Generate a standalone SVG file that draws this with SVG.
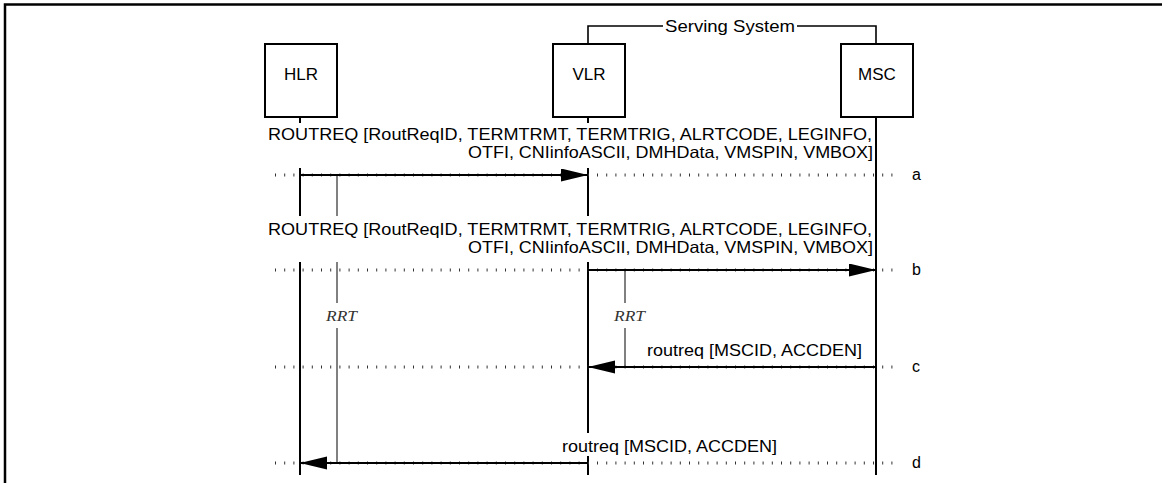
<svg xmlns="http://www.w3.org/2000/svg" width="1162" height="483" viewBox="0 0 1162 483">
<style>
.frame{fill:none;stroke:#000;stroke-width:2.5}
.box{fill:#fff;stroke:#000;stroke-width:2}
.life{stroke:#000;stroke-width:2;fill:none}
.timer{stroke:#808080;stroke-width:2;fill:none}
.dots{stroke:#333;stroke-width:3;stroke-dasharray:1 8.2;fill:none}
.msg{stroke:#000;stroke-width:1.8;fill:none}
.brk{stroke:#000;stroke-width:1.6;fill:none}
.node{font-family:"Liberation Sans",Arial,sans-serif;font-size:17px;fill:#000}
.lbl{font-family:"Liberation Sans",Arial,sans-serif;font-size:16.5px;fill:#000}
.tag{font-family:"Liberation Sans",Arial,sans-serif;font-size:16px;fill:#000}
.rrt{font-family:"Liberation Serif","Times New Roman",serif;font-style:italic;font-size:14px;fill:#333}
</style>
<defs>
<marker id="ah" markerUnits="userSpaceOnUse" markerWidth="28" markerHeight="14" refX="27" refY="6.5" orient="auto">
<path d="M0,0 L27,6.5 L0,13 Z" fill="#000"/>
</marker>
</defs>
<rect width="1162" height="483" fill="#fff"/>
<path class="frame" d="M5,483 V4.5 H1162"/>

<g id="serving-system">
<path class="brk" d="M588,44 V26 H663"/>
<path class="brk" d="M797,26 H876 V44"/>
<text class="node" x="665" y="31.5" textLength="130" lengthAdjust="spacingAndGlyphs">Serving System</text>
</g>

<g id="HLR">
<rect class="box" x="265" y="44" width="72" height="73"/>
<text class="node" x="301" y="79.5" text-anchor="middle">HLR</text>
</g>
<g id="VLR">
<rect class="box" x="553" y="44" width="72" height="73"/>
<text class="node" x="589" y="79.5" text-anchor="middle">VLR</text>
</g>
<g id="MSC">
<rect class="box" x="841" y="44" width="72" height="73"/>
<text class="node" x="877" y="79.5" text-anchor="middle">MSC</text>
</g>

<g id="lifelines">
<path class="life" d="M300,117 V123 M300,168 V216 M300,262 V475"/>
<path class="life" d="M588,117 V123 M588,168 V216 M588,262 V433 M588,456 V475"/>
<path class="life" d="M876,117 V475"/>
</g>

<g id="timers">
<path class="timer" d="M337,175 V216 M337,262 V303 M337,328 V463"/>
<text class="rrt" x="326" y="321" textLength="31" lengthAdjust="spacingAndGlyphs">RRT</text>
<path class="timer" d="M625,270 V303 M625,328 V367"/>
<text class="rrt" x="614" y="321" textLength="31" lengthAdjust="spacingAndGlyphs">RRT</text>
</g>

<g id="connectors">
<path class="dots" d="M275,175 H898 M275,270 H898 M275,367 H898 M275,463 H898"/>
<line class="msg" x1="300" y1="175" x2="588" y2="175" marker-end="url(#ah)"/>
<line class="msg" x1="588" y1="270" x2="876" y2="270" marker-end="url(#ah)"/>
<line class="msg" x1="876" y1="367" x2="588" y2="367" marker-end="url(#ah)"/>
<line class="msg" x1="588" y1="463" x2="300" y2="463" marker-end="url(#ah)"/>

<text class="lbl" x="268" y="139.5" textLength="604" lengthAdjust="spacingAndGlyphs">ROUTREQ [RoutReqID, TERMTRMT, TERMTRIG, ALRTCODE, LEGINFO,</text>
<text class="lbl" x="468" y="157.5" textLength="405" lengthAdjust="spacingAndGlyphs">OTFI, CNIinfoASCII, DMHData, VMSPIN, VMBOX]</text>
<text class="lbl" x="268" y="234.5" textLength="604" lengthAdjust="spacingAndGlyphs">ROUTREQ [RoutReqID, TERMTRMT, TERMTRIG, ALRTCODE, LEGINFO,</text>
<text class="lbl" x="468" y="252.5" textLength="405" lengthAdjust="spacingAndGlyphs">OTFI, CNIinfoASCII, DMHData, VMSPIN, VMBOX]</text>
<text class="lbl" x="647" y="355.5" textLength="215" lengthAdjust="spacingAndGlyphs">routreq [MSCID, ACCDEN]</text>
<text class="lbl" x="562" y="451.5" textLength="215" lengthAdjust="spacingAndGlyphs">routreq [MSCID, ACCDEN]</text>

<text class="tag" x="912" y="180">a</text>
<text class="tag" x="912" y="275">b</text>
<text class="tag" x="912" y="372">c</text>
<text class="tag" x="912" y="468">d</text>
</g>
</svg>
